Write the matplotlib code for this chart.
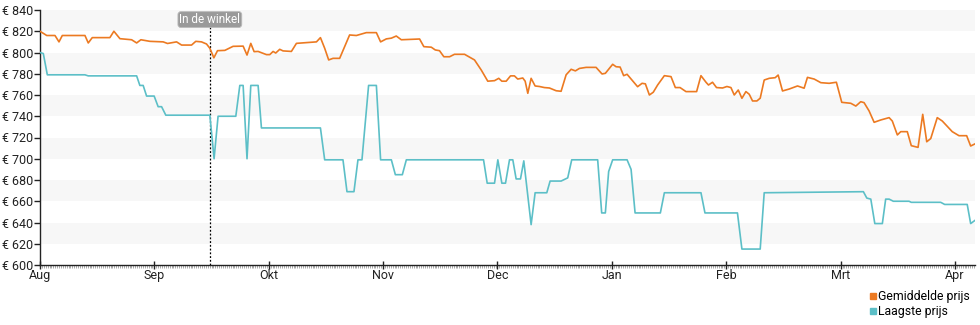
import matplotlib
matplotlib.use("Agg")
import matplotlib.pyplot as plt
from matplotlib.lines import Line2D
from matplotlib.ticker import MultipleLocator

plt.rcParams["font.family"] = ["Roboto", "DejaVu Sans"]

# x = months since 1 Aug (axis has one equal slot per month)
months = ["Aug", "Sep", "Okt", "Nov", "Dec", "Jan", "Feb", "Mrt", "Apr"]

avg_x = [0.000, 0.059, 0.131, 0.166, 0.195, 0.393, 0.422, 0.457, 0.611, 0.646,
         0.699, 0.801, 0.845, 0.882, 0.961, 1.077, 1.115, 1.194, 1.238, 1.325,
         1.362, 1.412, 1.456, 1.485, 1.520, 1.552, 1.616, 1.688, 1.776, 1.810,
         1.843, 1.872, 1.907, 1.980, 2.009, 2.038, 2.061, 2.096, 2.125, 2.198,
         2.242, 2.417, 2.452, 2.489, 2.524, 2.562, 2.620, 2.707, 2.766, 2.853,
         2.941, 2.978, 3.028, 3.072, 3.115, 3.159, 3.319, 3.356, 3.421, 3.456,
         3.493, 3.531, 3.581, 3.624, 3.712, 3.799, 3.858, 3.915, 3.974, 4.011,
         4.038, 4.076, 4.114, 4.148, 4.177, 4.221, 4.242, 4.265, 4.294, 4.329,
         4.367, 4.410, 4.454, 4.513, 4.556, 4.600, 4.644, 4.681, 4.716, 4.775,
         4.862, 4.914, 4.943, 5.007, 5.037, 5.072, 5.103, 5.133, 5.182, 5.225,
         5.264, 5.293, 5.328, 5.362, 5.400, 5.459, 5.517, 5.555, 5.596, 5.648,
         5.741, 5.779, 5.823, 5.845, 5.880, 5.915, 5.968, 6.006, 6.041, 6.070,
         6.105, 6.137, 6.172, 6.201, 6.230, 6.268, 6.297, 6.332, 6.376, 6.428,
         6.454, 6.492, 6.550, 6.623, 6.681, 6.710, 6.769, 6.827, 6.900, 6.963,
         7.010, 7.089, 7.133, 7.176, 7.205, 7.249, 7.293, 7.351, 7.424, 7.452,
         7.496, 7.526, 7.583, 7.618, 7.677, 7.718, 7.753, 7.788, 7.845, 7.889,
         7.976, 8.035, 8.102, 8.137, 8.175]
avg_price = [820, 816, 816, 810, 816, 816, 809, 814, 814, 820,
             813, 812, 809, 812, 810.5, 810, 808.5, 810, 807, 807,
             810.5, 810, 808, 804, 795, 801.7, 802, 805.8, 806, 797.6,
             808.6, 800.8, 801, 798, 798, 801, 799.5, 803, 801.5, 801,
             808.6, 810, 814, 804, 793, 794.5, 794.5, 816.5, 816, 818.7,
             818.7, 810, 812.8, 813.5, 815.5, 812, 812.7, 805.5, 805, 802.4,
             801.7, 796, 796, 798.3, 798.3, 793, 783.5, 773, 773.5, 775.7,
             773, 773, 778, 778, 775, 776, 773, 761.6, 775.7, 768.5,
             768, 767, 766.6, 764, 763.5, 779, 784.2, 782.7, 785, 786,
             786, 779.8, 780.4, 788.9, 786.6, 786.3, 778.2, 779.5, 773.2, 767.8,
             771, 770.5, 760, 762.6, 769.4, 778.2, 777.3, 767, 767, 763.2,
             763.2, 778.2, 772, 769.4, 772, 767, 766.6, 768, 767, 760,
             764.7, 756.9, 763.2, 760.7, 754.4, 754.4, 757, 774.1, 775.7, 776.3,
             778.8, 763.8, 765.6, 768.5, 766.4, 776.6, 775, 771.6, 771, 772,
             753.1, 752.2, 749.6, 753.7, 752.8, 745, 734.3, 736.5, 738.7, 735.5,
             722.4, 725.5, 725.5, 712.3, 710.7, 741.8, 716, 719, 738.7, 735.5,
             725.5, 721.7, 721.7, 712, 714]

low_x = [0.000, 0.029, 0.064, 0.393, 0.422, 0.845, 0.873, 0.902, 0.932, 0.998,
         1.033, 1.063, 1.100, 1.485, 1.522, 1.557, 1.712, 1.747, 1.776, 1.810,
         1.843, 1.907, 1.936, 2.452, 2.489, 2.649, 2.684, 2.745, 2.780, 2.815,
         2.873, 2.941, 2.978, 3.072, 3.107, 3.168, 3.203, 3.878, 3.910, 3.974,
         4.003, 4.038, 4.070, 4.105, 4.134, 4.163, 4.201, 4.230, 4.294, 4.329,
         4.431, 4.460, 4.556, 4.614, 4.649, 4.876, 4.911, 4.943, 4.972, 5.007,
         5.133, 5.168, 5.203, 5.424, 5.459, 5.779, 5.814, 6.098, 6.137, 6.297,
         6.332, 7.199, 7.229, 7.264, 7.299, 7.365, 7.394, 7.424, 7.461, 7.598,
         7.618, 7.875, 7.910, 8.107, 8.137, 8.175]
low_price = [800, 799, 779, 779, 778, 778, 769, 769, 759, 759,
             749, 749, 741, 741, 700, 740, 740, 769, 769, 700,
             769, 769, 729, 729, 699, 699, 669, 669, 699, 699,
             769, 769, 699, 699, 685, 685, 699, 699, 677, 677,
             699, 677, 677, 699, 699, 681, 681, 698, 638, 668,
             668, 679, 679, 682, 699, 699, 649, 649, 688, 699,
             699, 690, 649, 649, 668, 668, 649, 649, 615, 615,
             668, 669, 663, 662, 639, 639, 662, 662, 660, 660,
             659, 659, 657, 657, 639, 642]

store_x = 1.485  # "In de winkel" marker

ORANGE = "#ec7a22"
TEAL = "#5cbfc7"

fig = plt.figure(figsize=(9.8, 3.25), dpi=100)
ax = fig.add_axes([40 / 980, 1 - 265 / 325, 935 / 980, 255 / 325])

for lo in range(620, 840, 40):
    ax.axhspan(lo, lo + 20, color="#f7f7f7", lw=0, zorder=0)

ax.plot(avg_x, avg_price, color=ORANGE, lw=1.2, zorder=3)
ax.plot(low_x, low_price, color=TEAL, lw=1.2, zorder=3)

ax.axvline(store_x, color="black", ls=(0, (1.5, 1.5)), lw=0.9, zorder=2)
ax.text(store_x, 831, "In de winkel", ha="center", va="center", color="white",
        fontsize=8.5, zorder=5,
        bbox=dict(boxstyle="round,pad=0.12,rounding_size=0.25",
                  fc="#9a9a9a", ec="#bbbbbb", lw=0.6))

ax.set_xlim(0, 8.175)
ax.set_ylim(600, 840)
ax.set_yticks(range(600, 841, 20))
ax.set_yticklabels([f"€ {v}" for v in range(600, 841, 20)])
ax.set_xticks(range(len(months)))
ax.set_xticklabels(months)
ax.xaxis.set_minor_locator(MultipleLocator(1 / 60))

for s in ("top", "right"):
    ax.spines[s].set_visible(False)
for s in ("left", "bottom"):
    ax.spines[s].set_color("#222222")
    ax.spines[s].set_linewidth(1.0)
ax.tick_params(axis="y", length=4, width=1, labelsize=9, pad=1,
               colors="#222222")
ax.tick_params(axis="x", which="major", direction="inout", length=6, width=1,
               labelsize=9, pad=0, colors="#222222")
ax.tick_params(axis="x", which="minor", length=2, width=0.5,
               color="#888888")

handles = [Line2D([], [], ls="", marker="s", ms=5, color=ORANGE),
           Line2D([], [], ls="", marker="s", ms=5, color=TEAL)]
fig.legend(handles, ["Gemiddelde prijs", "Laagste prijs"],
           loc="upper left", bbox_to_anchor=(869 / 980, 1 - 290 / 325),
           frameon=False, fontsize=8.8, handlelength=0.6, handletextpad=0.15,
           labelspacing=0.15, borderpad=0, borderaxespad=0)

fig.savefig("out.png", dpi=100)
